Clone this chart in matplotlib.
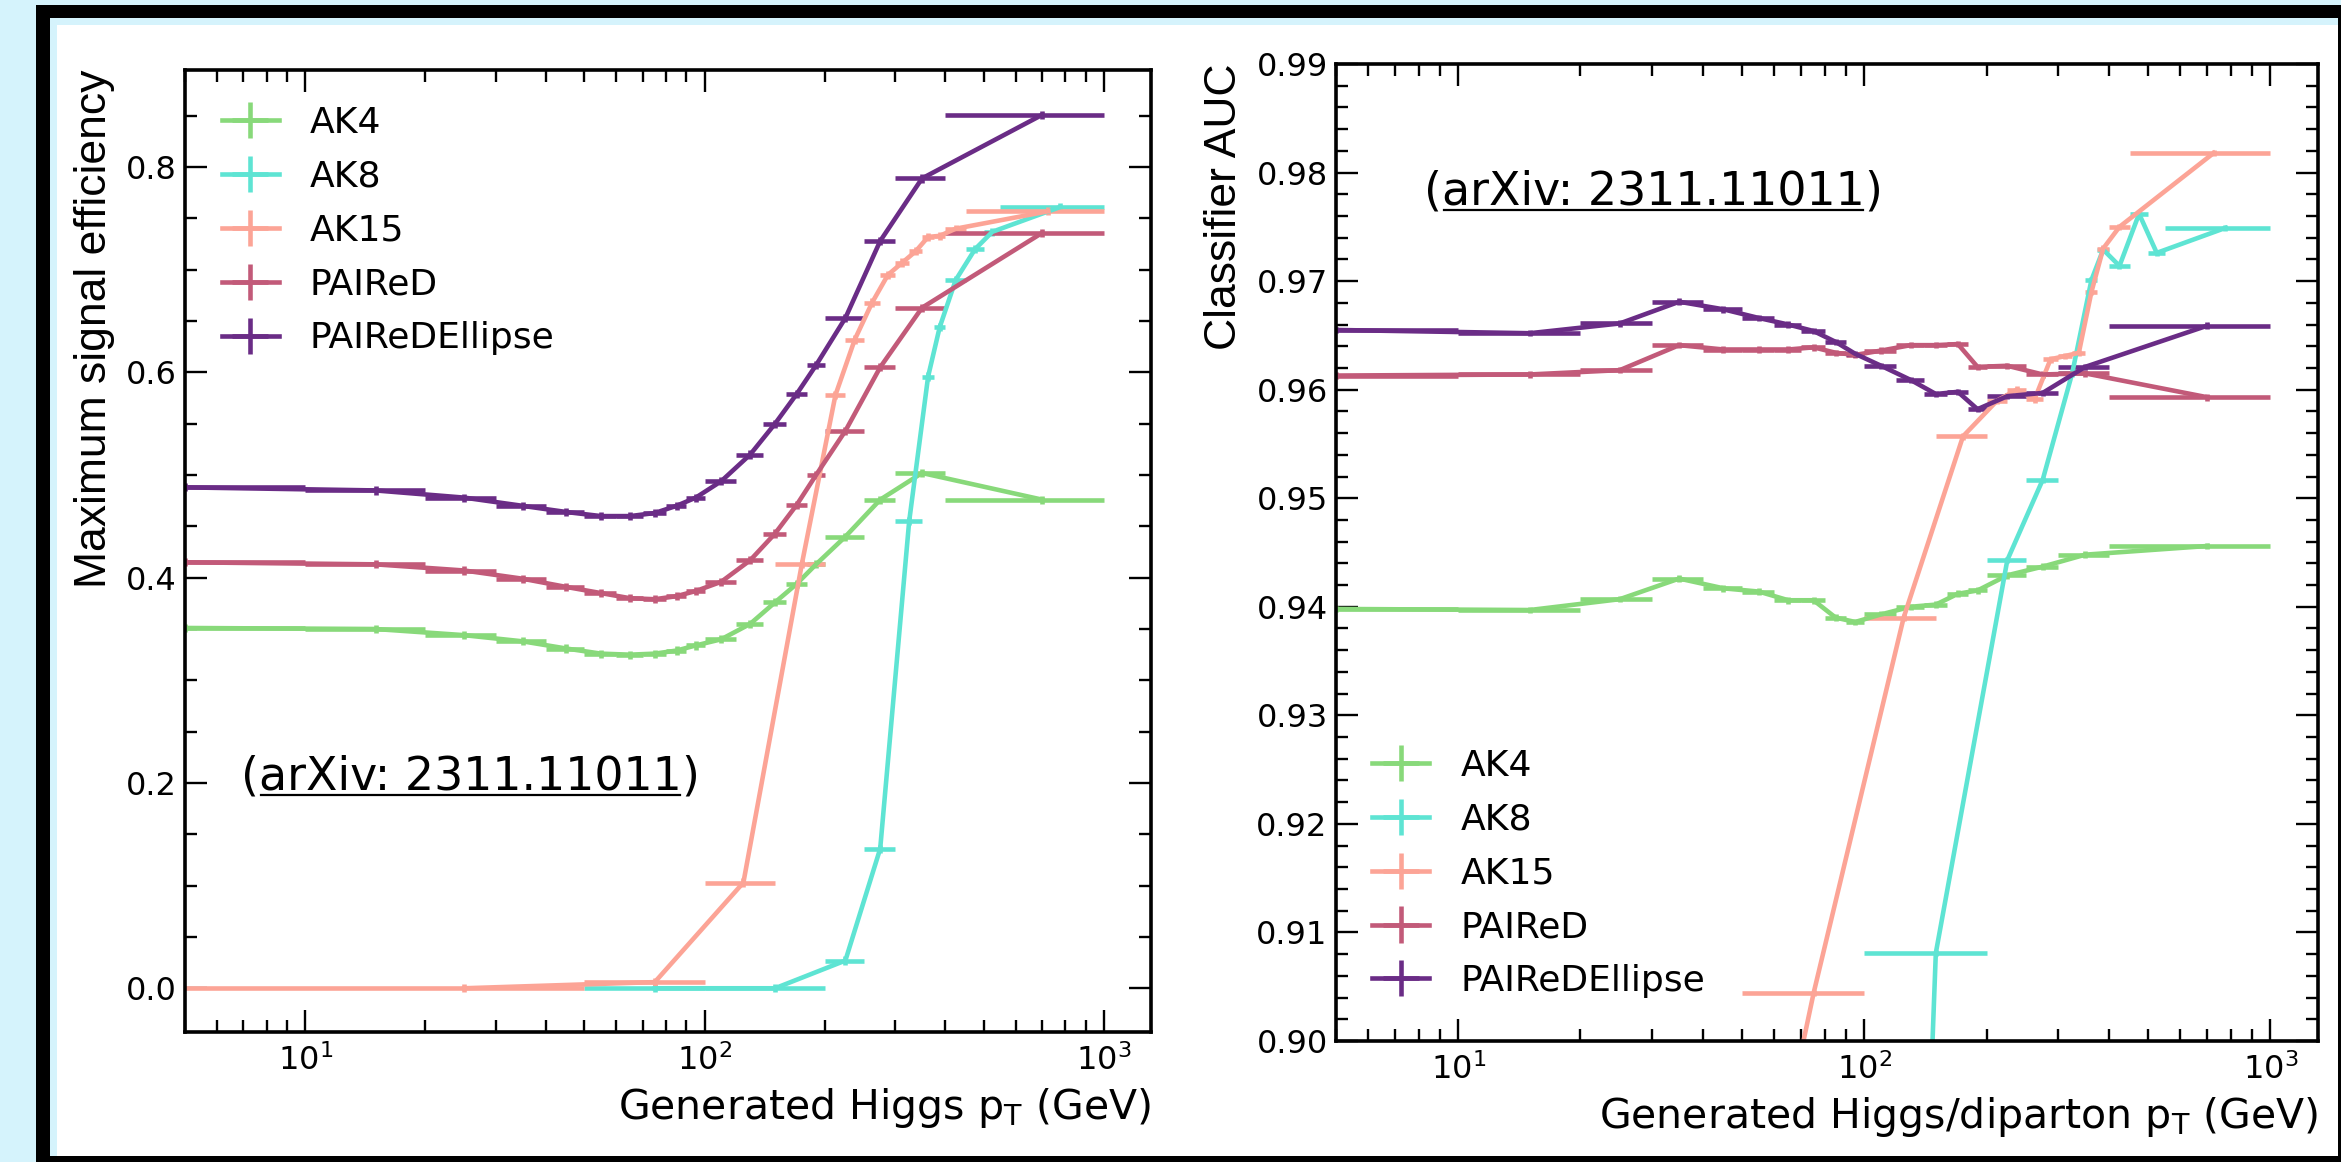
import numpy as np
import matplotlib
matplotlib.use("Agg")
import matplotlib.pyplot as plt
from matplotlib.patches import Rectangle
from matplotlib.ticker import MultipleLocator, FormatStrFormatter

plt.rcParams["font.family"] = ["DejaVu Sans"]
plt.rcParams["mathtext.default"] = "regular"

labels = ["AK4", "AK8", "AK15", "PAIReD", "PAIReDEllipse"]
colors = ["#88d97a", "#5ee4d3", "#fca496", "#c25a79", "#6a2c86"]

# pT bin edges (GeV)
edges_fine = [0, 10, 20, 30, 40, 50, 60, 70, 80, 90, 100, 120, 140, 160, 180, 200, 250, 300, 400, 1000]
edges_ak8 = [50, 100, 200, 250, 300, 350, 375, 400, 450, 500, 550, 1000]
edges_ak15 = [0, 50, 100, 150, 200, 225, 250, 275, 300, 325, 350, 375, 400, 450, 1000]

# left: maximum signal efficiency
eff_ak4 = [0.351, 0.350, 0.344, 0.338, 0.331, 0.326, 0.325, 0.326, 0.329, 0.334, 0.340, 0.355,
           0.376, 0.394, 0.413, 0.440, 0.476, 0.502, 0.476]
eff_ak8 = [0.0, 0.0, 0.027, 0.136, 0.455, 0.596, 0.644, 0.690, 0.720, 0.737, 0.761]
eff_ak15 = [0.0, 0.006, 0.103, 0.413, 0.578, 0.632, 0.668, 0.695, 0.707, 0.718, 0.732, 0.733,
            0.740, 0.757]
eff_paired = [0.415, 0.413, 0.407, 0.399, 0.391, 0.385, 0.380, 0.379, 0.382, 0.387, 0.396, 0.417,
              0.443, 0.471, 0.500, 0.543, 0.605, 0.663, 0.736]
eff_ellipse = [0.488, 0.485, 0.478, 0.470, 0.464, 0.460, 0.460, 0.463, 0.470, 0.478, 0.494, 0.520,
               0.550, 0.579, 0.607, 0.653, 0.728, 0.789, 0.851]

# right: classifier AUC
auc_ak4 = [0.9398, 0.9397, 0.9407, 0.9426, 0.9417, 0.9414, 0.9406, 0.9406, 0.9390, 0.9386, 0.9393,
           0.9400, 0.9402, 0.9412, 0.9415, 0.9429, 0.9437, 0.9448, 0.9456]
auc_ak8 = [0.608, 0.9081, 0.9443, 0.9517, 0.9615, 0.9701, 0.9729, 0.9714, 0.9762, 0.9726, 0.9749]
auc_ak15 = [0.82, 0.9044, 0.9390, 0.9557, 0.9590, 0.9600, 0.9591, 0.9628, 0.9631, 0.9634, 0.9690,
            0.9730, 0.9750, 0.9818]
auc_paired = [0.9613, 0.9614, 0.9618, 0.9641, 0.9637, 0.9637, 0.9637, 0.9639, 0.9634, 0.9632, 0.9636,
              0.9641, 0.9641, 0.9642, 0.9621, 0.9622, 0.9614, 0.9615, 0.9593]
auc_ellipse = [0.9655, 0.9652, 0.9661, 0.9681, 0.9674, 0.9666, 0.9660, 0.9654, 0.9644, 0.9633, 0.9622,
               0.9609, 0.9596, 0.9598, 0.9582, 0.9594, 0.9597, 0.9621, 0.9659]

W, H = 2341, 1162
fig = plt.figure(figsize=(W / 100, H / 100), dpi=100)
fig.patch.set_facecolor("#d5f3fc")


def px_rect(x0, y0, x1, y1, color):
    fig.patches.append(Rectangle((x0 / W, 1 - y1 / H), (x1 - x0) / W, (y1 - y0) / H,
                                 transform=fig.transFigure, color=color, zorder=-10, lw=0))


# slide frame
px_rect(36, 5, W + 5, H + 5, "black")
px_rect(50, 18, W - 3, H - 6, "#d5f3fc")
px_rect(57, 25, W - 3, H - 6, "white")

axL = fig.add_axes([185 / W, 1 - 1032 / H, (1151 - 185) / W, (1032 - 70) / H])
axR = fig.add_axes([1336 / W, 1 - 1041 / H, (2318 - 1336) / W, (1041 - 64) / H])


def draw(ax, edges, vals, color, label, yerr):
    e = np.array(edges, float)
    lo, hi = e[:-1], e[1:]
    x = 0.5 * (lo + hi)
    xl = x - np.maximum(lo, 1.0)  # a 0 GeV edge cannot sit on a log axis
    ax.errorbar(x, vals, xerr=[xl, hi - x], yerr=yerr, color=color, lw=3.3,
                elinewidth=3.3, capsize=0, label=label)


def style(ax):
    ax.set_xscale("log")
    ax.set_xlim(5, 1310)
    ax.tick_params(which="both", direction="in", top=True, right=True, labelsize=23, width=1.7)
    ax.tick_params(which="major", length=16, pad=6)
    ax.tick_params(which="minor", length=8.5)
    ax.tick_params(axis="x", which="major", pad=9)
    for s in ax.spines.values():
        s.set_linewidth(2.6)


series_L = [(edges_fine, eff_ak4), (edges_ak8, eff_ak8), (edges_ak15, eff_ak15),
            (edges_fine, eff_paired), (edges_fine, eff_ellipse)]
series_R = [(edges_fine, auc_ak4), (edges_ak8, auc_ak8), (edges_ak15, auc_ak15),
            (edges_fine, auc_paired), (edges_fine, auc_ellipse)]

for (ed, v), c, lab in zip(series_L, colors, labels):
    draw(axL, ed, v, c, lab, 0.004)
for (ed, v), c, lab in zip(series_R, colors, labels):
    draw(axR, ed, v, c, lab, 0.0003)

style(axL)
axL.set_ylim(-0.0426, 0.8946)
axL.yaxis.set_major_locator(MultipleLocator(0.2))
axL.yaxis.set_minor_locator(MultipleLocator(0.05))
axL.yaxis.set_major_formatter(FormatStrFormatter("%.1f"))
axL.set_ylabel("Maximum signal efficiency", loc="top", fontsize=32, family="Liberation Sans", labelpad=8)
axL.set_xlabel("Generated Higgs p$_\\mathrm{T}$ (GeV)", loc="right", fontsize=29.5, labelpad=6)

style(axR)
axR.set_ylim(0.90, 0.99)
axR.yaxis.set_major_locator(MultipleLocator(0.01))
axR.yaxis.set_minor_locator(MultipleLocator(0.002))
axR.yaxis.set_major_formatter(FormatStrFormatter("%.2f"))
axR.set_ylabel("Classifier AUC", loc="top", fontsize=32, family="Liberation Sans", labelpad=8)
axR.set_xlabel("Generated Higgs/diparton p$_\\mathrm{T}$ (GeV)", loc="right", fontsize=29.5, labelpad=6)

leg_kw = dict(frameon=False, fontsize=26, handlelength=1.58, handletextpad=0.86,
              labelspacing=0.55, borderpad=0, borderaxespad=0)
axL.legend(loc="upper left", bbox_to_anchor=(0.038, 0.9626), **leg_kw)
axR.legend(loc="lower left", bbox_to_anchor=(0.037, 0.044), **leg_kw)

renderer = fig.canvas.get_renderer()


def arxiv_note(ax, x0, y0, fs=33):
    inv = ax.transAxes.inverted()
    t1 = ax.text(x0, y0, "(", transform=ax.transAxes, fontsize=fs, va="baseline")
    b1 = t1.get_window_extent(renderer)
    x1 = inv.transform((b1.x1, 0))[0]
    t2 = ax.text(x1, y0, "arXiv: 2311.11011", transform=ax.transAxes, fontsize=fs, va="baseline")
    b2 = t2.get_window_extent(renderer)
    x2 = inv.transform((b2.x1, 0))[0]
    ax.text(x2, y0, ")", transform=ax.transAxes, fontsize=fs, va="baseline")
    yb = ax.transAxes.transform((0, y0))[1] - 5
    ul = inv.transform([(b2.x0 + 2, yb), (b2.x1 - 2, yb)])
    ax.plot(ul[:, 0], ul[:, 1], color="black", lw=1.6, transform=ax.transAxes, clip_on=False)


arxiv_note(axL, 0.058, 0.252)
arxiv_note(axR, 0.0896, 0.8557)

fig.savefig("out.png", dpi=100, facecolor=fig.get_facecolor())
